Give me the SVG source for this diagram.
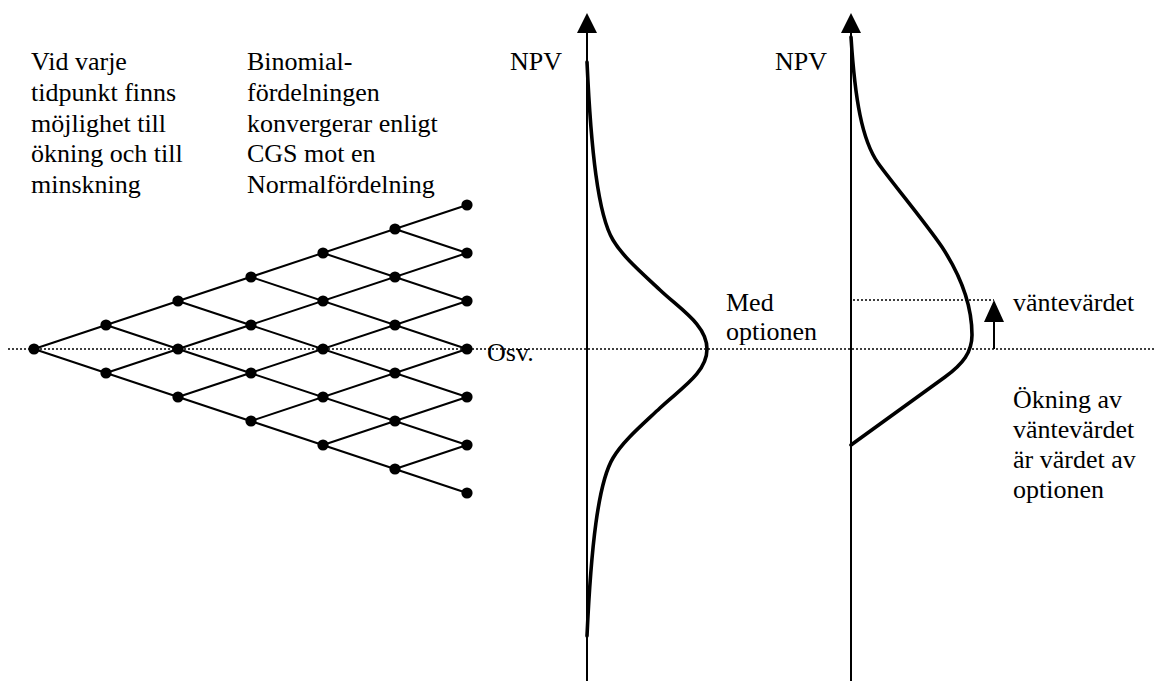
<svg xmlns="http://www.w3.org/2000/svg" xmlns:xlink="http://www.w3.org/1999/xlink" width="1155" height="681" viewBox="0 0 1155 681">
  <style>
    .txt { font-family: "Liberation Serif", "Times New Roman", serif; font-size: 26px; fill: #000; }
    .edge { stroke: #000; stroke-width: 2; fill: none; }
    .axis { stroke: #000; stroke-width: 2; fill: none; }
    .curve { stroke: #000; stroke-width: 3.6; fill: none; stroke-linejoin: round; stroke-linecap: round; }
    .dots { stroke: #000; stroke-width: 1.5; stroke-dasharray: 2 2; fill: none; }
    .head { fill: #000; }
  </style>
  <defs>
    <circle id="dot" r="5.6" fill="#000"/>
  </defs>
  <rect width="1155" height="681" fill="#fff"/>

  <!-- reference levels -->
  <g id="levels">
    <line class="dots" x1="8" y1="349" x2="1155" y2="349"/>
    <line class="dots" x1="853" y1="300" x2="994" y2="300"/>
  </g>

  <!-- binomial lattice edges -->
  <g id="connectors">
    <line class="edge" x1="34" y1="349" x2="467" y2="205"/>
    <line class="edge" x1="106" y1="373" x2="467" y2="253"/>
    <line class="edge" x1="178" y1="397" x2="467" y2="301"/>
    <line class="edge" x1="251" y1="421" x2="467" y2="349"/>
    <line class="edge" x1="323" y1="445" x2="467" y2="397"/>
    <line class="edge" x1="395" y1="469" x2="467" y2="445"/>
    <line class="edge" x1="34" y1="349" x2="467" y2="493"/>
    <line class="edge" x1="106" y1="325" x2="467" y2="445"/>
    <line class="edge" x1="178" y1="301" x2="467" y2="397"/>
    <line class="edge" x1="251" y1="277" x2="467" y2="349"/>
    <line class="edge" x1="323" y1="253" x2="467" y2="301"/>
    <line class="edge" x1="395" y1="229" x2="467" y2="253"/>
  </g>

  <!-- lattice nodes -->
  <g id="n0-0"><use xlink:href="#dot" x="34" y="349"/></g>
  <g id="n1-0"><use xlink:href="#dot" x="106" y="325"/></g>
  <g id="n1-1"><use xlink:href="#dot" x="106" y="373"/></g>
  <g id="n2-0"><use xlink:href="#dot" x="178" y="301"/></g>
  <g id="n2-1"><use xlink:href="#dot" x="178" y="349"/></g>
  <g id="n2-2"><use xlink:href="#dot" x="178" y="397"/></g>
  <g id="n3-0"><use xlink:href="#dot" x="251" y="277"/></g>
  <g id="n3-1"><use xlink:href="#dot" x="251" y="325"/></g>
  <g id="n3-2"><use xlink:href="#dot" x="251" y="373"/></g>
  <g id="n3-3"><use xlink:href="#dot" x="251" y="421"/></g>
  <g id="n4-0"><use xlink:href="#dot" x="323" y="253"/></g>
  <g id="n4-1"><use xlink:href="#dot" x="323" y="301"/></g>
  <g id="n4-2"><use xlink:href="#dot" x="323" y="349"/></g>
  <g id="n4-3"><use xlink:href="#dot" x="323" y="397"/></g>
  <g id="n4-4"><use xlink:href="#dot" x="323" y="445"/></g>
  <g id="n5-0"><use xlink:href="#dot" x="395" y="229"/></g>
  <g id="n5-1"><use xlink:href="#dot" x="395" y="277"/></g>
  <g id="n5-2"><use xlink:href="#dot" x="395" y="325"/></g>
  <g id="n5-3"><use xlink:href="#dot" x="395" y="373"/></g>
  <g id="n5-4"><use xlink:href="#dot" x="395" y="421"/></g>
  <g id="n5-5"><use xlink:href="#dot" x="395" y="469"/></g>
  <g id="n6-0"><use xlink:href="#dot" x="467" y="205"/></g>
  <g id="n6-1"><use xlink:href="#dot" x="467" y="253"/></g>
  <g id="n6-2"><use xlink:href="#dot" x="467" y="301"/></g>
  <g id="n6-3"><use xlink:href="#dot" x="467" y="349"/></g>
  <g id="n6-4"><use xlink:href="#dot" x="467" y="397"/></g>
  <g id="n6-5"><use xlink:href="#dot" x="467" y="445"/></g>
  <g id="n6-6"><use xlink:href="#dot" x="467" y="493"/></g>

  <!-- NPV axes -->
  <g id="axis-left">
    <line class="axis" x1="587" y1="30" x2="587" y2="681"/>
    <polygon class="head" points="587,13 577,33 597,33"/>
  </g>
  <g id="axis-right">
    <line class="axis" x1="851" y1="30" x2="851" y2="681"/>
    <polygon class="head" points="851,13 841,33 861,33"/>
  </g>

  <!-- symmetric normal distribution -->
  <g id="curve-normal">
    <path class="curve" d="M587,62 C591,150 598,215 613,240 C623,257 642,273 660,290 C680,309 707,325 707,349 C707,373 680,389 660,408 C642,425 623,441 613,458 C598,483 591,548 587,636"/>
  </g>

  <!-- truncated distribution with the option -->
  <g id="curve-option">
    <path class="curve" d="M851,37 C855,100 862,140 878,163 C890,180 925,222 942,247 C957,270 972,300 972,335 C972,352 963,364 945,377 L851,445"/>
  </g>

  <!-- shift of the expected value -->
  <g id="shift-arrow">
    <line class="axis" x1="994" y1="349" x2="994" y2="318"/>
    <polygon class="head" points="994,300 984,322 1004,322"/>
  </g>

  <!-- labels -->
  <g id="label-tree" class="txt">
    <text x="31" y="70">Vid varje</text>
    <text x="31" y="101">tidpunkt finns</text>
    <text x="31" y="132">möjlighet till</text>
    <text x="31" y="162">ökning och till</text>
    <text x="31" y="193">minskning</text>
  </g>
  <g id="label-clt" class="txt">
    <text x="247" y="70">Binomial-</text>
    <text x="247" y="101">fördelningen</text>
    <text x="247" y="132">konvergerar enligt</text>
    <text x="247" y="162">CGS mot en</text>
    <text x="247" y="193">Normalfördelning</text>
  </g>
  <g id="label-npv-left" class="txt"><text x="510" y="70">NPV</text></g>
  <g id="label-npv-right" class="txt"><text x="775" y="70">NPV</text></g>
  <g id="label-osv" class="txt"><text x="487" y="361">Osv.</text></g>
  <g id="label-med" class="txt">
    <text x="726" y="311">Med</text>
    <text x="726" y="340">optionen</text>
  </g>
  <g id="label-expected" class="txt"><text x="1013" y="311">väntevärdet</text></g>
  <g id="label-increase" class="txt">
    <text x="1013" y="408">Ökning av</text>
    <text x="1013" y="438">väntevärdet</text>
    <text x="1013" y="468">är värdet av</text>
    <text x="1013" y="498">optionen</text>
  </g>
</svg>
